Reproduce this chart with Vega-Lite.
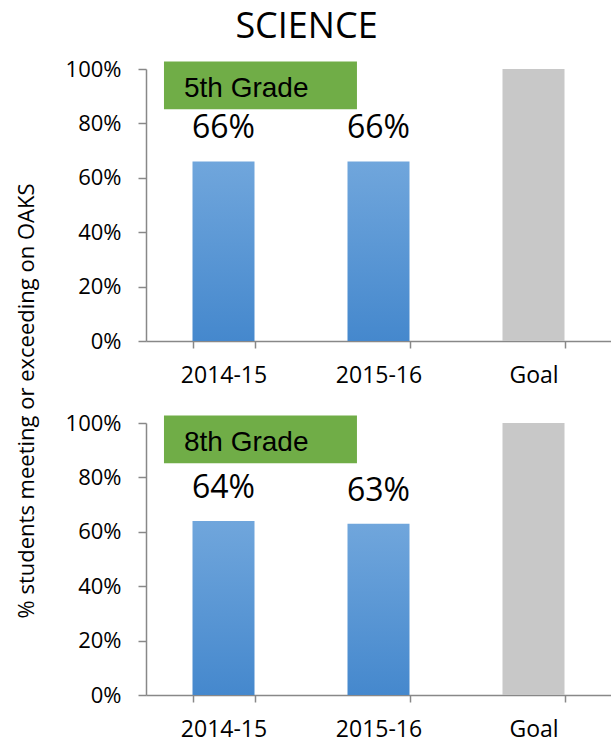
{
  "$schema": "https://vega.github.io/schema/vega-lite/v6.json",
  "padding": {"left": 15, "top": 9, "right": 0, "bottom": 0},
  "background": "white",
  "title": {"text": "SCIENCE", "font": "Open Sans", "fontSize": 36, "fontWeight": "normal", "color": "black", "anchor": "middle", "offset": 12, "dx": -7},
  "data": {"values": [
    {"grade": "5th Grade", "cat": "2014-15", "pct": 0.66},
    {"grade": "5th Grade", "cat": "2015-16", "pct": 0.66},
    {"grade": "5th Grade", "cat": "Goal", "pct": 1.0},
    {"grade": "8th Grade", "cat": "2014-15", "pct": 0.64},
    {"grade": "8th Grade", "cat": "2015-16", "pct": 0.63},
    {"grade": "8th Grade", "cat": "Goal", "pct": 1.0}
  ]},
  "facet": {"row": {"field": "grade", "type": "nominal", "title": "% students meeting or exceeding on OAKS",
    "header": {"labels": false, "titleFont": "Open Sans", "titleFontSize": 22, "titleFontWeight": "normal", "titleColor": "black", "titlePadding": 16, "titleOrient": "left"}}},
  "spacing": {"row": 82},
  "bounds": "flush",
  "resolve": {"axis": {"x": "independent"}},
  "spec": {
    "width": 465,
    "height": 272,
    "layer": [
      {
        "layer": [
          {
            "mark": {"type": "bar"},
            "encoding": {
              "x": {"field": "cat", "type": "nominal", "sort": null,
                "scale": {"paddingInner": 0.6, "paddingOuter": 0.3},
                "axis": {"title": null, "labelAngle": 0, "tickBand": "extent", "domainColor": "#888888", "domainWidth": 1.5, "tickColor": "#888888", "tickWidth": 1.5, "tickSize": 7, "labelFont": "Open Sans", "labelFontSize": 23, "labelColor": "black", "labelPadding": 16}},
              "y": {"field": "pct", "type": "quantitative",
                "scale": {"domain": [0, 1], "nice": false},
                "axis": {"title": null, "format": ".0%", "values": [0, 0.2, 0.4, 0.6, 0.8, 1], "grid": false, "domainColor": "#888888", "domainWidth": 1.5, "tickColor": "#888888", "tickWidth": 1.5, "tickSize": 8, "labelFont": "Open Sans", "labelFontSize": 22, "labelColor": "black", "labelPadding": 17}},
              "color": {
                "condition": {"test": "datum.cat === 'Goal'", "value": "#c8c8c8"},
                "value": {"gradient": "linear", "x1": 0, "y1": 0, "x2": 0, "y2": 1, "stops": [{"offset": 0, "color": "#70a6dc"}, {"offset": 1, "color": "#4588cd"}]}
              }
            }
          },
          {
            "transform": [{"filter": "datum.cat !== 'Goal'"}],
            "mark": {"type": "text", "dy": -23, "baseline": "alphabetic", "font": "Open Sans", "fontSize": 32, "color": "black"},
            "encoding": {
              "x": {"field": "cat", "type": "nominal", "sort": null},
              "y": {"field": "pct", "type": "quantitative"},
              "text": {"field": "pct", "type": "quantitative", "format": ".0%"}
            }
          }
        ]
      },
      {
        "transform": [{"aggregate": [{"op": "count", "as": "n"}], "groupby": ["grade"]}],
        "layer": [
          {
            "mark": {"type": "rect", "color": "#70ad47"},
            "encoding": {
              "x": {"datum": 0.116, "type": "quantitative", "scale": {"domain": [0, 3], "nice": false, "zero": false}, "axis": null},
              "x2": {"datum": 1.361},
              "y": {"datum": 1.028, "type": "quantitative"},
              "y2": {"datum": 0.852}
            }
          },
          {
            "mark": {"type": "text", "align": "left", "baseline": "alphabetic", "font": "Liberation Sans", "fontSize": 28, "color": "black"},
            "encoding": {
              "x": {"datum": 0.245, "type": "quantitative"},
              "y": {"datum": 0.897, "type": "quantitative"},
              "text": {"field": "grade", "type": "nominal"}
            }
          }
        ]
      }
    ],
    "resolve": {"scale": {"x": "independent"}}
  },
  "config": {"view": {"stroke": null}}
}
